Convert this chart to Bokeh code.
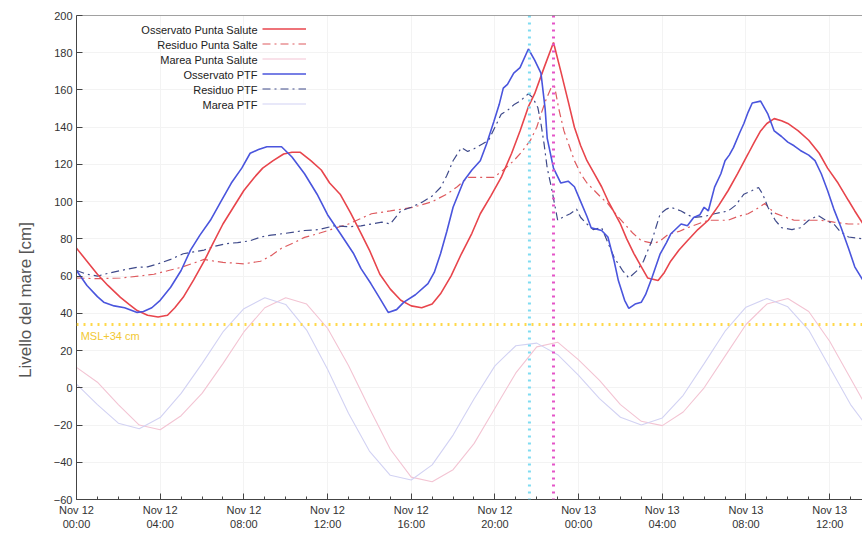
import numpy as np
import pandas as pd
from bokeh.plotting import figure
from bokeh.models import (Range1d, FixedTicker, DatetimeTickFormatter, Span, Label,
                          Legend, LegendItem)
from bokeh.embed import file_html
from bokeh.resources import INLINE

BASE = pd.Timestamp("2019-11-12 00:00")

# ---- data (hours after Nov 12 00:00, cm) ----
obs_ptf_h = [0, 0.5, 1.0, 1.3, 1.8, 2.3, 2.9, 3.2, 3.6, 4.0, 4.5, 5.0, 5.45, 5.9, 6.4, 6.9, 7.4, 7.9, 8.3, 8.7, 9.1, 9.8,
             10.3, 10.9, 11.5, 12.0, 12.6, 13.25, 13.6, 14.07, 14.5, 14.9, 15.3, 15.65, 16.2, 16.8, 17.1, 17.4, 17.7,
             18.0, 18.5, 18.9, 19.3, 19.6, 19.95, 20.2, 20.4, 20.6, 20.9, 21.2, 21.6, 21.9, 22.2, 22.4, 22.5, 22.8,
             23.15, 23.5, 23.8, 24.1, 24.4, 24.6, 25.1, 25.4, 25.7, 25.9, 26.2, 26.4, 26.7, 27.0, 27.2, 27.5, 27.9,
             28.2, 28.4, 28.9, 29.2, 29.5, 29.8, 30.0, 30.2, 30.5, 30.8, 31.0, 31.2, 31.4, 31.7, 31.9, 32.1, 32.3,
             32.7, 33.05, 33.35, 33.7, 34.0, 34.3, 34.6, 35.0, 35.3, 35.6, 35.9, 36.2, 36.55, 36.9, 37.2, 37.6]
obs_ptf_v = [63, 55, 49, 46, 44, 43, 40.5, 41, 43, 47, 54, 63, 74, 82, 90, 100, 110, 118, 126, 128, 129.5, 129.5,
             124, 115, 104, 93, 83, 72, 64, 56, 48, 40.5, 42, 46, 50, 56, 62, 72, 84,
             97, 111, 117, 122, 131, 143, 152, 161, 163, 169, 172, 182, 176, 169, 150, 134, 118,
             110, 111, 108, 100, 92, 86, 84.5, 81, 68, 57.6, 47, 42.7, 45, 46, 50, 59, 72,
             78, 82.6, 88, 87, 91.5, 93, 97, 95, 107.8, 115, 122, 125, 129, 137, 142, 148, 153,
             154, 147, 138, 135, 132, 130, 127.5, 125, 122, 115, 106, 96, 86, 75, 65, 57.6]

obs_ps_h = [0, 0.5, 1.0, 1.5, 2.1, 2.5, 2.9, 3.4, 3.9, 4.35, 4.7, 5.1, 5.6, 6.1, 6.5, 7.0, 7.5, 8.0, 8.5, 8.9, 9.4,
            9.9, 10.3, 10.7, 11.2, 11.7, 12.1, 12.6, 13.1, 13.6, 14.0, 14.5, 15.0, 15.5, 16.0, 16.5, 17.0, 17.4,
            17.9, 18.4, 18.9, 19.3, 19.8, 20.3, 20.8, 21.2, 21.6, 21.9, 22.35, 22.8, 23.15, 23.5, 23.8, 24.1, 24.4,
            24.75, 25.1, 25.4, 26.0, 26.3, 26.65, 27.0, 27.3, 27.8, 28.1, 28.4, 28.8, 29.2, 29.7, 30.2, 30.7,
            31.15, 31.6, 32.1, 32.4, 32.7, 33.0, 33.35, 33.7, 34.0, 34.5, 35.0, 35.5, 35.9, 36.4, 36.9, 37.2, 37.6]
obs_ps_v = [75, 68, 61, 55, 48.6, 45, 41.5, 39, 38, 39, 43, 48.6, 58, 68, 77, 88, 97, 106, 113, 118, 122,
            125.6, 126.5, 126.5, 122, 117, 110, 104, 94, 83, 74, 61, 53, 47, 44, 43, 45, 50.5,
            60, 72, 83, 93.5, 103, 113, 126, 138, 151, 158, 172, 185.5, 170, 154, 140, 130, 122,
            115, 108, 100.6, 88, 80, 72, 65, 59, 57.6, 62, 68, 74, 79, 85, 90, 98,
            106, 115, 125.6, 132, 138, 142, 144.6, 143.5, 142, 138, 133, 126, 118, 110, 100.6, 95, 88]

res_ptf_h = [0, 0.5, 1.0, 1.5, 2.1, 2.9, 3.4, 3.9, 4.5, 5.1, 5.6, 6.1, 6.6, 7.2, 7.7, 8.3, 8.8, 9.3, 10.0, 10.9,
             11.6, 12.3, 13.0, 13.6, 14.1, 14.6, 15.0, 15.5, 16.0, 16.5, 17.0, 17.4, 17.7, 18.0, 18.4, 18.7, 19.0,
             19.4, 19.7, 20.0, 20.3, 20.6, 20.9, 21.2, 21.6, 21.8, 22.05, 22.2, 22.35, 22.5, 22.7, 23.0, 23.3,
             23.6, 23.9, 24.1, 24.4, 24.7, 25.1, 25.4, 25.7, 26.1, 26.4, 26.8, 27.1, 27.5, 27.9, 28.2, 28.4, 28.9,
             29.2, 29.5, 30.0, 30.5, 31.15, 31.5, 31.9, 32.3, 32.6, 32.8, 33.05, 33.4, 33.7, 34.2, 34.6, 35.0,
             35.45, 35.8, 36.2, 36.5, 36.9, 37.6]
res_ptf_v = [63, 61, 60, 61.5, 63, 64.7, 65, 66.6, 69, 72, 73, 74, 76, 77.5, 78, 79, 81, 82, 83, 84.5,
             85, 87, 86.5, 87, 88, 89, 88, 95, 97, 99.6, 103, 107.6, 114, 122, 129, 127, 128.4,
             131, 133, 140, 147, 149, 152, 154, 158, 156, 150.6, 142, 131, 118, 107.6, 90, 92,
             93.5, 96, 91.5, 88, 85, 86, 78, 70, 63, 59, 63, 68, 79, 93.5, 96, 97, 95,
             93, 91.5, 92, 93.5, 95, 98, 104, 106, 107.6, 104, 97, 90, 86, 85, 86, 90,
             92.6, 90, 88, 84, 81, 80]

res_ps_h = [0, 1.0, 2.1, 3.0, 3.7, 4.4, 5.0, 5.6, 6.1, 6.6, 7.0, 8.0, 8.8, 9.3, 9.8, 10.4, 10.9, 11.6, 12.15,
            13.0, 14.1, 15.0, 16.1, 17.0, 17.7, 18.2, 18.7, 19.3, 19.95, 20.4, 20.9, 21.3, 21.7, 22.0, 22.2,
            22.45, 22.7, 22.85, 23.05, 23.3, 23.55, 23.8, 24.1, 24.4, 24.75, 25.1, 25.4, 25.8, 26.2, 26.6, 27.0,
            27.6, 27.9, 28.3, 28.8, 29.2, 29.7, 30.2, 30.7, 31.15, 31.6, 32.1, 32.5, 32.9, 33.35, 33.8, 34.3,
            35.0, 35.6, 36.2, 36.9, 37.6]
res_ps_v = [59, 58.6, 59, 60, 61, 63, 64.7, 67, 69, 68, 67.4, 66.6, 68, 71, 75, 78, 80.8, 83, 85,
            88, 93.5, 95, 97, 100, 104, 108, 113, 113, 113, 117, 122, 127, 133, 140, 147,
            155, 161.5, 162, 150, 138, 130, 122, 115, 110, 106, 102, 99, 93, 88, 83, 79,
            77.5, 79, 82.6, 84, 86, 88, 90, 90, 90, 92, 93.5, 96, 99, 94, 92, 90,
            90, 90, 89, 88, 88]

tide_h = list(range(0, 39))
tide_ptf_v = [2, -9, -19, -22, -16, -3, 13, 30, 42.5, 48.4, 44.8, 31, 10, -13.7, -34, -47, -49.5, -41.4, -25.4,
              -6, 11.8, 22.6, 24, 17.8, 6.7, -5.8, -15.8, -20, -16.2, -4, 13, 30.4, 43.3, 48, 43.5, 31, 11, -9, -24]
tide_ps_v = [11, 3, -9, -20, -22.5, -15, -3, 13, 30, 43, 48.4, 45, 32, 12, -11, -33, -48, -50.5, -44, -30,
             -11, 8, 22, 24.5, 15, 4, -9, -18, -20.3, -13, 0, 17, 34, 45, 48, 41, 25, 5, -15]

msl_offset = 34
t_peak_ptf_h = 21.65
t_peak_ps_h = 22.8

x_end_h = 37.57
x_tick_hours = list(range(0, 40, 4))
x_minor_hours = list(range(0, 39))
y_ticks = list(range(-60, 201, 20))

series_labels = ["Osservato Punta Salute", "Residuo Punta Salte", "Marea Punta Salute",
                 "Osservato PTF", "Residuo PTF", "Marea PTF"]
y_title = "Livello del mare [cm]"


def to_ms(hours):
    return [(BASE + pd.Timedelta(hours=float(h))).value / 1e6 for h in hours]


p = figure(width=862, height=539, output_backend="svg", toolbar_location=None,
           x_axis_type="datetime",
           x_range=Range1d(to_ms([0])[0], to_ms([x_end_h])[0]),
           y_range=Range1d(-60, 200),
           min_border_left=76, min_border_right=0, min_border_top=15, min_border_bottom=40)
p.outline_line_color = None
p.background_fill_color = "white"

# grid
p.xgrid.ticker = FixedTicker(ticks=to_ms(x_tick_hours))
p.ygrid.ticker = FixedTicker(ticks=y_ticks)
p.grid.grid_line_color = "#f3f3f3"
p.grid.grid_line_width = 1

# tides
r_mps = p.line(to_ms(tide_h), tide_ps_v, line_color="#f3c4d3", line_width=1.1)
r_mptf = p.line(to_ms(tide_h), tide_ptf_v, line_color="#d2d2f3", line_width=1.1)

# MSL line
p.add_layout(Span(location=msl_offset, dimension="width", line_color="#ffd84a",
                  line_width=3, line_dash="2 5"))

# residuals
r_rps = p.line(to_ms(res_ps_h), res_ps_v, line_color="#de5b5f", line_width=1.2, line_dash="8 4 2 4")
r_rptf = p.line(to_ms(res_ptf_h), res_ptf_v, line_color="#3f4a8a", line_width=1.2, line_dash="8 4 2 4")

# observed
r_ops = p.line(to_ms(obs_ps_h), obs_ps_v, line_color="#e8454c", line_width=1.6)
r_optf = p.line(to_ms(obs_ptf_h), obs_ptf_v, line_color="#4a55dd", line_width=1.6)

# peak time markers
p.add_layout(Span(location=to_ms([t_peak_ptf_h])[0], dimension="height", line_color="#7fdcf2",
                  line_width=3, line_dash="2 5"))
p.add_layout(Span(location=to_ms([t_peak_ps_h])[0], dimension="height", line_color="#e455c8",
                  line_width=3, line_dash="2 5"))

# top border
p.add_layout(Span(location=200, dimension="width", line_color="#444444", line_width=1))

p.add_layout(Label(x=to_ms([0.2])[0], y=msl_offset, y_offset=-5, text="MSL+34 cm",
                   text_color="#f2c832", text_font="Liberation Sans", text_font_size="11px",
                   text_baseline="top"))

# axes
fmt = "%b %d\n%H:%M"
p.xaxis.ticker = FixedTicker(ticks=to_ms(x_tick_hours), minor_ticks=to_ms(x_minor_hours))
p.xaxis.formatter = DatetimeTickFormatter(hours=fmt, hourmin=fmt, days=fmt, minutes=fmt,
                                          minsec=fmt, seconds=fmt, months=fmt, years=fmt)
p.yaxis.ticker = FixedTicker(ticks=y_ticks)
for ax in (p.xaxis, p.yaxis):
    ax.major_tick_in = 6
    ax.major_tick_out = 0
    ax.minor_tick_in = 3
    ax.minor_tick_out = 0
    ax.axis_line_color = "#444444"
    ax.major_tick_line_color = "#444444"
    ax.minor_tick_line_color = "#444444"
    ax.major_label_text_font = "Liberation Sans"
    ax.major_label_text_font_size = "11px"
    ax.major_label_text_color = "#333333"
    ax.major_label_standoff = 4

# y axis title; trailing no-break spaces move the visible text below the frame centre, as in the reference
p.yaxis.axis_label = y_title + "\u00a0" * 18
p.yaxis.axis_label_text_font = "Liberation Sans"
p.yaxis.axis_label_text_font_size = "17px"
p.yaxis.axis_label_text_font_style = "normal"
p.yaxis.axis_label_text_color = "#555555"
p.yaxis.axis_label_standoff = 16

# legend: samples on the right, labels right-aligned (as in the reference)
renderers = [r_ops, r_rps, r_mps, r_optf, r_rptf, r_mptf]
legend = Legend(items=[LegendItem(label=" ", renderers=[r]) for r in renderers],
                location=(186, 388), padding=0, spacing=0, margin=0,
                glyph_width=44, glyph_height=15, label_height=15, label_width=1,
                label_standoff=0, label_text_font_size="11px",
                background_fill_alpha=0, border_line_color=None)
p.add_layout(legend)
for i, lab in enumerate(series_labels):
    p.add_layout(Label(x=181, y=470 - 15 * i, x_units="screen", y_units="screen", text=lab,
                       text_align="right", text_baseline="middle", text_font="Liberation Sans",
                       text_font_size="11px", text_color="#222222"))

open("out.html", "w").write(file_html(p, INLINE))
